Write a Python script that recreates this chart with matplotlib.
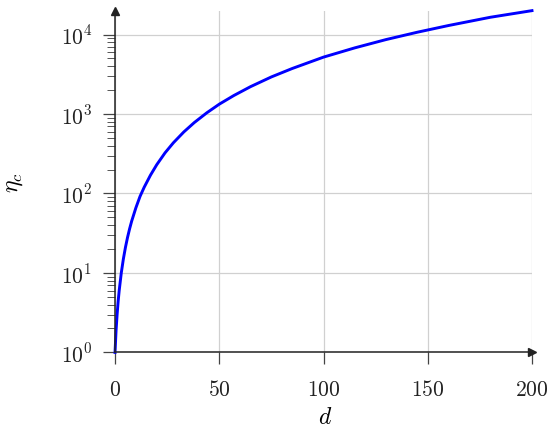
import numpy as np
import matplotlib
matplotlib.use("Agg")
import matplotlib.pyplot as plt
from matplotlib.ticker import FixedLocator

plt.rcParams['mathtext.fontset'] = 'cm'
plt.rcParams['font.family'] = ['DejaVu Serif']

# values
d_vals = [0, 0.5, 1, 1.5, 2, 3, 4, 5, 6, 7, 8, 10, 12, 14, 17, 20, 24, 28, 33, 38,
          44, 50, 57, 65, 75, 85, 100, 115, 130, 145, 160, 180, 200]
eta_vals = [1, 1.9, 3, 4.4, 6, 10, 15, 21, 28, 36, 45, 66, 92, 120, 170, 230, 325,
            435, 595, 780, 1035, 1330, 1710, 2210, 2930, 3740, 5200, 6800, 8650,
            10700, 13000, 16500, 20000]

x_ticks = [0, 50, 100, 150, 200]
y_ticks = [1, 10, 100, 1000, 10000]
y_tick_labels = [r'$10^{0}$', r'$10^{1}$', r'$10^{2}$', r'$10^{3}$', r'$10^{4}$']

fig = plt.figure(figsize=(5.53, 4.31), dpi=100)
ax = fig.add_axes([0.208, 0.180, 0.754, 0.793])

ax.plot(d_vals, eta_vals, color='#0000ff', linewidth=2.1, clip_on=False, zorder=3,
        solid_joinstyle='round')

ax.set_yscale('log')
ax.set_xlim(0, 200)
ax.set_ylim(1, 20000)

# grid
ax.set_xticks(x_ticks)
ax.set_xticklabels([r'$%d$' % t for t in x_ticks])
ax.yaxis.set_major_locator(FixedLocator(y_ticks))
ax.set_yticklabels(y_tick_labels)
minor = [m * 10 ** k for k in range(4) for m in range(2, 10)]
ax.yaxis.set_minor_locator(FixedLocator(minor))
ax.yaxis.set_minor_formatter(plt.NullFormatter())
ax.grid(True, which='major', color='#d0d0d0', linewidth=0.9, zorder=0)
ax.set_axisbelow(True)

ax.tick_params(axis='both', which='major', direction='out', length=8.5, width=0.9,
               color='#444444', labelsize=15.5, labelcolor='#222222')
ax.tick_params(axis='x', which='major', pad=10)
ax.tick_params(axis='y', which='major', pad=8)
ax.tick_params(axis='y', which='minor', direction='out', length=6, width=0.7, color='#555555')

for side in ['top', 'right']:
    ax.spines[side].set_visible(False)
for side in ['left', 'bottom']:
    ax.spines[side].set_color('#222222')
    ax.spines[side].set_linewidth(1.1)
    ax.spines[side].set_zorder(4)

# arrow heads at axis ends
ax.plot(1.0, 0, marker='>', markersize=6, color='#222222', transform=ax.transAxes, clip_on=False, zorder=5)
ax.plot(0, 1.0, marker='^', markersize=6, color='#222222', transform=ax.transAxes, clip_on=False, zorder=5)

ax.set_xlabel(r'$d$', fontsize=17)
ax.set_ylabel(r'$\eta_c$', fontsize=17)
ax.xaxis.set_label_coords(0.504, -0.155)
ax.yaxis.set_label_coords(-0.215, 0.5)

fig.savefig('out.png', dpi=100)
